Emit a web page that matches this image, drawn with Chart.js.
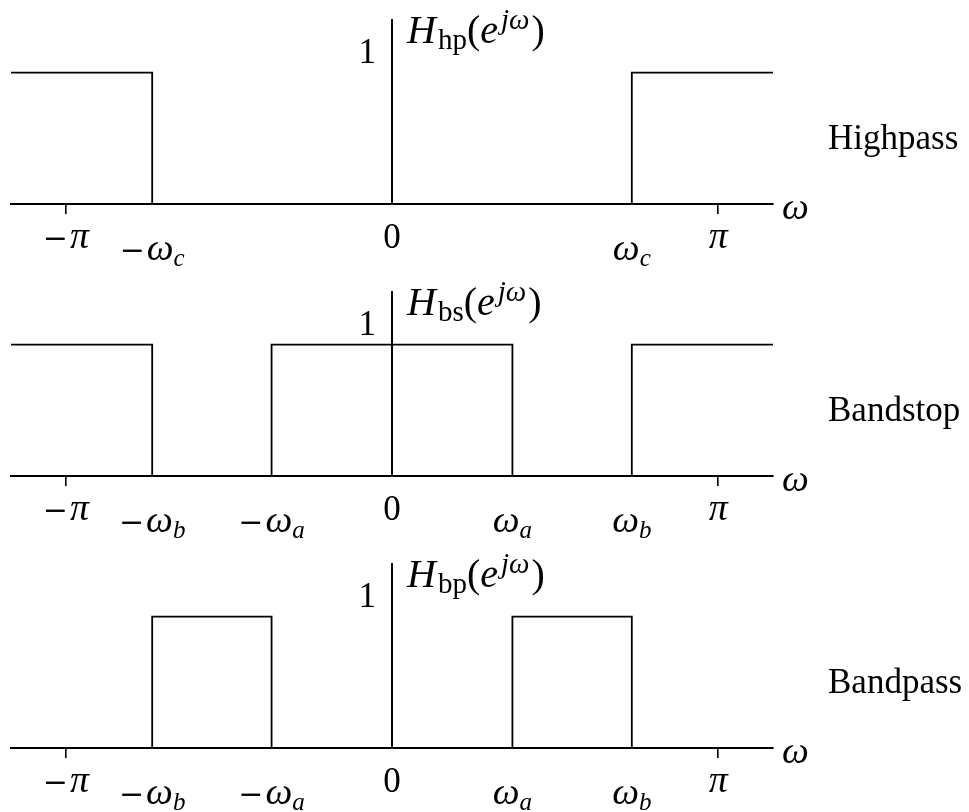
<!DOCTYPE html>
<html><head><meta charset="utf-8">
<script src="https://cdn.jsdelivr.net/npm/chart.js@4.4.1/dist/chart.umd.min.js"></script>
<style>
html,body{margin:0;padding:0;background:#fff;overflow:hidden;}
#wrap{position:relative;width:969px;height:812px;}
canvas{position:absolute;left:0;}
</style></head><body>
<div id="wrap">
<canvas id="c1" width="969" height="272" style="top:0"></canvas>
<canvas id="c2" width="969" height="272" style="top:272px"></canvas>
<canvas id="c3" width="969" height="268" style="top:544px"></canvas>
</div>
<script>
// ---- data ----
const wMax = 3.67;          // plotted ω range is [-wMax, wMax] (rad)
const gainMax = 1.4;        // top of the vertical axis
const wc = 2.31;            // highpass cutoff ω_c
const wa = 1.16;            // inner band edge ω_a
const wb = 2.31;            // outer band edge ω_b
const piTicks = [-Math.PI, Math.PI];

const hpOmega = [-wMax, -wc, -wc, wc, wc, wMax];
const hpGain  = [1, 1, 0, 0, 1, 1];
const bsOmega = [-wMax, -wb, -wb, -wa, -wa, wa, wa, wb, wb, wMax];
const bsGain  = [1, 1, 0, 0, 1, 1, 0, 0, 1, 1];
const bpOmega = [-wMax, -wb, -wb, -wa, -wa, wa, wa, wb, wb, wMax];
const bpGain  = [0, 0, 1, 1, 0, 0, 1, 1, 0, 0];

const hpTickPos  = [-Math.PI, -wc, 0, wc, Math.PI];
const hpTickText = ['−π', '−ω_c', '0', 'ω_c', 'π'];
const bsTickPos  = [-Math.PI, -wb, -wa, 0, wa, wb, Math.PI];
const bsTickText = ['−π', '−ω_b', '−ω_a', '0', 'ω_a', 'ω_b', 'π'];
const bpTickPos  = [-Math.PI, -wb, -wa, 0, wa, wb, Math.PI];
const bpTickText = ['−π', '−ω_b', '−ω_a', '0', 'ω_a', 'ω_b', 'π'];

const filterNames = ['Highpass', 'Bandstop', 'Bandpass'];
const filterSubs  = ['hp', 'bs', 'bp'];
const levelLabel  = '1';
const axisName    = 'ω';

// ---- drawing helpers ----
const SERIF = '"Liberation Serif", "DejaVu Serif", serif';
const MAIN = 35, GREEK = 38, SUB = 25;

function font(style, size, fam) { return style + ' ' + size + 'px ' + (fam || SERIF); }

function parseLabel(t) {
  const [main, sub] = t.split('_');
  const parts = [];
  for (const ch of main) {
    if (ch === '−') { parts.push({t: ch, f: font('normal', 30, '"DejaVu Serif", serif'), dy: 0, gap: 2}); continue; }
    const upright = /[0-9]/.test(ch);
    const greek = /[α-ω]/.test(ch);
    parts.push({t: ch, f: font(upright ? 'normal' : 'italic', greek ? GREEK : MAIN), dy: 0, gap: 0});
  }
  if (sub) parts.push({t: sub, f: font('italic', SUB), dy: 6, gap: 0});
  return parts;
}

function drawParts(ctx, parts, x, y, align) {
  let w = 0;
  parts.forEach(p => { ctx.font = p.f; p.w = ctx.measureText(p.t).width; w += p.w + (p.gap || 0); });
  let cx = align === 'center' ? x - w / 2 : (align === 'right' ? x - w : x);
  parts.forEach(p => {
    ctx.font = p.f;
    ctx.fillText(p.t, cx, y + (p.dy || 0));
    cx += p.w + (p.gap || 0);
  });
}

const mathText = {
  id: 'mathText',
  afterDraw(chart, args, o) {
    const {ctx, chartArea, scales: {x, y}} = chart;
    const axisY = y.getPixelForValue(0);
    const x0 = x.getPixelForValue(0);
    ctx.save();
    ctx.fillStyle = '#000';
    ctx.textBaseline = 'alphabetic';
    ctx.textAlign = 'left';
    // tick labels on the ω axis
    o.tickPos.forEach((v, i) => {
      const t = o.tickText[i];
      drawParts(ctx, parseLabel(t), x.getPixelForValue(v), axisY + (t.includes('_') ? 56 : 44), 'center');
    });
    // "1" level label
    drawParts(ctx, [{t: levelLabel, f: font('normal', MAIN)}], x0 - 16, y.getPixelForValue(1) - 10, 'right');
    // H_xx(e^{jω})
    drawParts(ctx, [
      {t: 'H', f: font('italic', 40), dy: 0, gap: 2},
      {t: o.sub, f: font('normal', 29), dy: 6, gap: 0},
      {t: '(', f: font('normal', 40), dy: 0, gap: 0},
      {t: 'e', f: font('italic', 40), dy: 0, gap: 3},
      {t: 'jω', f: font('italic', 29), dy: -14, gap: 2},
      {t: ')', f: font('normal', 40), dy: 0, gap: 0}
    ], x0 + 15, chartArea.top + 23, 'left');
    // ω axis name
    drawParts(ctx, [{t: axisName, f: font('italic', GREEK)}], x.right + 9, axisY + 15, 'left');
    // filter name
    drawParts(ctx, [{t: o.name, f: font('normal', MAIN)}], 828, axisY - 55, 'left');
    ctx.restore();
  }
};

function makeChart(id, omega, gain, tickPos, tickText, idx, canvasH) {
  const data = omega.map((w, i) => ({x: w, y: gain[i]}));
  return new Chart(document.getElementById(id), {
    type: 'line',
    data: {datasets: [{
      data, borderColor: '#000', borderWidth: 1.8, pointRadius: 0,
      fill: false, tension: 0, clip: false, borderJoinStyle: 'miter'
    }]},
    options: {
      responsive: false, animation: false, events: [],
      layout: {padding: {left: 11, right: 196, top: 20, bottom: 0}},
      plugins: {
        legend: {display: false}, tooltip: {enabled: false},
        mathText: {tickPos, tickText, sub: filterSubs[idx], name: filterNames[idx]}
      },
      scales: {
        x: {
          type: 'linear', min: -wMax, max: wMax, position: 'bottom',
          afterBuildTicks: s => { s.ticks = piTicks.map(v => ({value: v})); },
          afterFit: s => { s.height = canvasH - 204; },
          grid: {display: true, drawOnChartArea: false, drawTicks: true, tickLength: 10, color: '#000', lineWidth: 1.6},
          border: {display: true, color: '#000', width: 2},
          ticks: {display: false}
        },
        y: {
          type: 'linear', min: 0, max: gainMax, position: {x: 0},
          grid: {display: false},
          border: {display: true, color: '#000', width: 2},
          ticks: {display: false}
        }
      }
    },
    plugins: [mathText]
  });
}

makeChart('c1', hpOmega, hpGain, hpTickPos, hpTickText, 0, 272);
makeChart('c2', bsOmega, bsGain, bsTickPos, bsTickText, 1, 272);
makeChart('c3', bpOmega, bpGain, bpTickPos, bpTickText, 2, 268);
</script>
</body></html>
